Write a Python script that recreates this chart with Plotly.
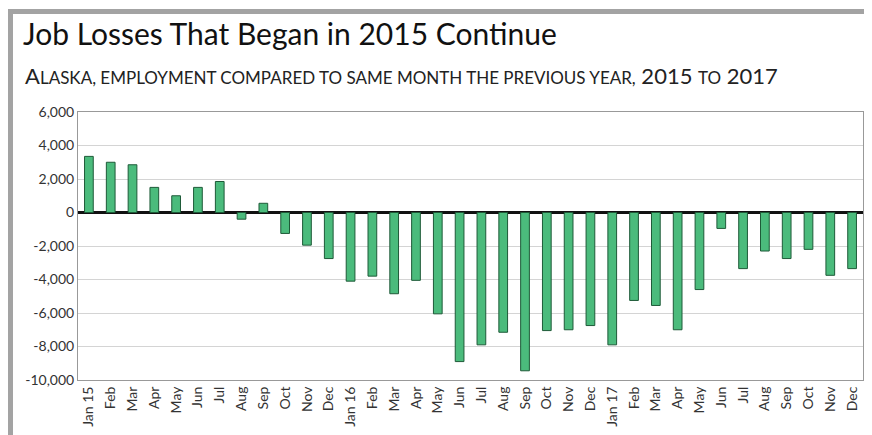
import plotly.graph_objects as go

# Alaska over-the-year employment change, Jan 2015 - Dec 2017
month_labels = [
    "Jan 15", "Feb", "Mar", "Apr", "May", "Jun", "Jul", "Aug", "Sep", "Oct", "Nov", "Dec",
    "Jan 16", "Feb", "Mar", "Apr", "May", "Jun", "Jul", "Aug", "Sep", "Oct", "Nov", "Dec",
    "Jan 17", "Feb", "Mar", "Apr", "May", "Jun", "Jul", "Aug", "Sep", "Oct", "Nov", "Dec",
]
job_change = [
    3350, 3000, 2850, 1500, 1000, 1500, 1850, -400, 550, -1250, -1950, -2750,
    -4100, -3800, -4850, -4050, -6050, -8900, -7900, -7150, -9450, -7050, -7000, -6750,
    -7900, -5250, -5550, -7000, -4600, -950, -3350, -2300, -2750, -2200, -3750, -3350,
]
y_ticks = [-10000, -8000, -6000, -4000, -2000, 0, 2000, 4000, 6000]
y_tick_text = ["-10,000", "-8,000", "-6,000", "-4,000", "-2,000", "0", "2,000", "4,000", "6,000"]

FONT = "Lato"
x_pos = list(range(len(month_labels)))

# page puts the figure 8px in from top/left, so size and place for that
W, H = 864, 427
L, R, T, B = 70, 9, 104, 55
pw, ph = W - L - R, H - T - B

def px_x(p):
    return (p - L) / pw

def px_y(p):
    return (H - B - p) / ph

fig = go.Figure()
fig.add_trace(go.Bar(
    x=x_pos, y=job_change,
    marker=dict(color="#4bbb7c", line=dict(color="#1e5a38", width=1)),
    hoverinfo="y",
))

# grey frame along top and left edge
fig.add_shape(type="rect", xref="paper", yref="paper",
              x0=px_x(0), x1=px_x(W + 10), y0=px_y(6), y1=px_y(1),
              fillcolor="#a3a3a3", line_width=0, layer="below")
fig.add_shape(type="rect", xref="paper", yref="paper",
              x0=px_x(0), x1=px_x(5), y0=px_y(H + 10), y1=px_y(1),
              fillcolor="#a3a3a3", line_width=0, layer="below")

sub = ("A<span style='font-size:17px'>LASKA, EMPLOYMENT COMPARED TO SAME MONTH THE PREVIOUS YEAR,</span>"
       " 2015 <span style='font-size:17px'>TO</span> 2017")
fig.add_annotation(text=sub, xref="paper", yref="paper",
                   x=px_x(15), y=px_y(67), xanchor="left", yanchor="middle",
                   showarrow=False, font=dict(family=FONT, size=22, color="#222222"))

fig.update_layout(
    title=dict(text="Job Losses That Began in 2015 Continue",
               xref="container", yref="container",
               x=15 / W, y=1 - 26 / H, xanchor="left", yanchor="middle",
               font=dict(family=FONT, size=30, color="#111111")),
    width=W, height=H,
    margin=dict(l=L, r=R, t=T, b=B),
    paper_bgcolor="white", plot_bgcolor="white",
    bargap=0.6,
    showlegend=False,
    font=dict(family=FONT, size=14, color="#333333"),
)
fig.update_xaxes(
    tickvals=x_pos, ticktext=month_labels, tickangle=-90,
    range=[-0.5, len(month_labels) - 0.5],
    showgrid=False, showline=True, mirror=True, linecolor="#999999", linewidth=1,
    ticks="", tickfont=dict(size=14, color="#333333"),
)
fig.update_yaxes(
    range=[-10000, 6000], tickvals=y_ticks, ticktext=y_tick_text,
    showgrid=True, gridcolor="#d4d4d4", gridwidth=1,
    showline=True, mirror=True, linecolor="#999999", linewidth=1,
    zeroline=True, zerolinecolor="#111111", zerolinewidth=3,
    ticks="", tickfont=dict(size=14, color="#333333"),
)

fig.write_html("out.html")
